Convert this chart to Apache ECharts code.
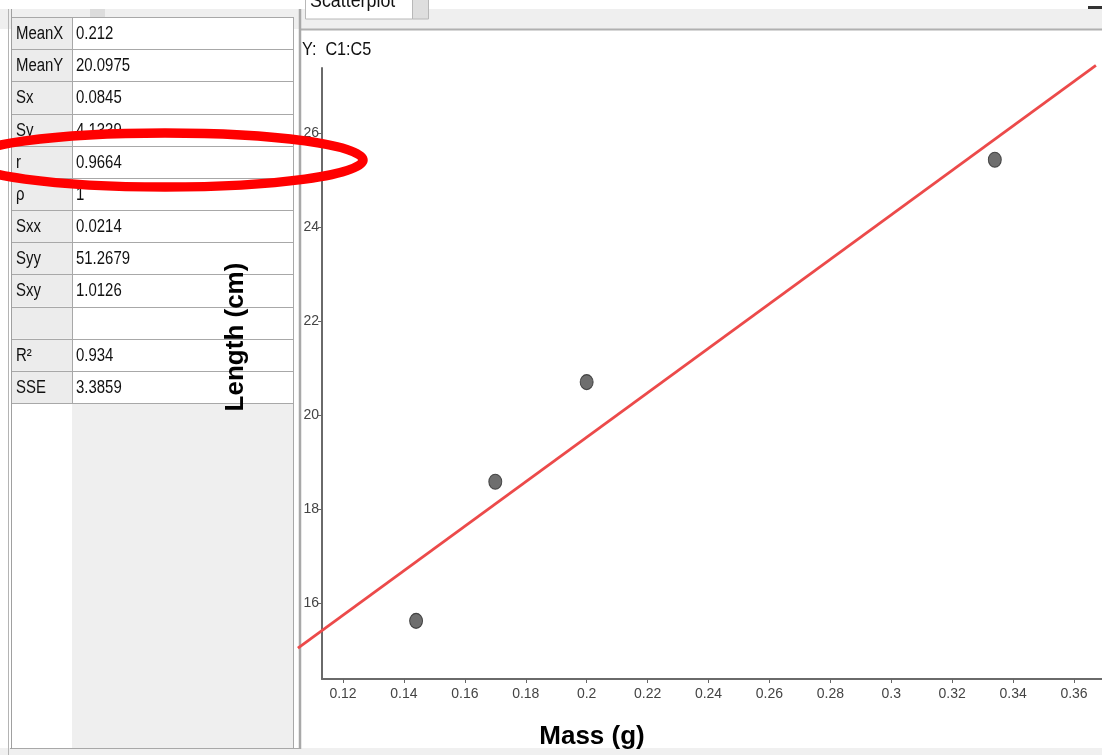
<!DOCTYPE html>
<html><head><meta charset="utf-8">
<script src="https://cdn.jsdelivr.net/npm/echarts@6/dist/echarts.min.js"></script>
<style>html,body{margin:0;padding:0;background:#fff;overflow:hidden}#c{width:1102px;height:755px;}</style>
</head><body><div id="c"></div>
<script>
// ---- data ----
const massX   = [0.144, 0.170, 0.200, 0.334];
const lengthY = [15.62, 18.58, 20.70, 25.43];
const fitLineX = [0.1052, 0.3672];
const fitLineY = [15.04, 27.44];
const statLabels = ['MeanX','MeanY','Sx','Sy','r','\u03c1','Sxx','Syy','Sxy','','R\u00b2','SSE'];
const statValues = ['0.212','20.0975','0.0845','4.1339','0.9664','1','0.0214','51.2679','1.0126','','0.934','3.3859'];
const xTickMin = 0.12, xTickMax = 0.36, xTickStep = 0.02;
const yTickMin = 16, yTickMax = 26, yTickStep = 2;
const xRange = [0.11311, 0.36919];
const yRange = [14.383, 27.383];
const xRangeWide = [0.10523, 0.36919];
const yRangeWide = [14.383, 27.553];

const FONT = '"Liberation Sans",Arial,sans-serif';

const chart = echarts.init(document.getElementById('c'), null, {renderer:'canvas'});

// ---- table & chrome graphics ----
const g = [];
function narrowText(txt, x, y, size, sx, extra) {
  return Object.assign({type:'text', x:x, y:y, scaleX:sx, scaleY:1,
    style:{text:txt, x:0, y:0, font:size+'px '+FONT, fill:'#111', textVerticalAlign:'middle', verticalAlign:'middle'}, z:5}, extra||{});
}
// top bar
g.push({type:'rect', shape:{x:0,y:9,width:1102,height:20}, style:{fill:'#efefef'}, z:1});
g.push({type:'line', shape:{x1:300,y1:29.5,x2:1102,y2:29.5}, style:{stroke:'#b0b0b0',lineWidth:2}, z:2});
g.push({type:'rect', shape:{x:305.5,y:-1,width:107,height:20}, style:{fill:'#fff',stroke:'#b8b8b8',lineWidth:1}, z:3});
g.push({type:'rect', shape:{x:412.5,y:-1,width:16,height:20}, style:{fill:'#dedede',stroke:'#b8b8b8',lineWidth:1}, z:3});
g.push(narrowText('Scatterplot', 310, 1, 21, 0.85, {z:4}));
g.push({type:'rect', shape:{x:90,y:9,width:15,height:8}, style:{fill:'#dcdcdc'}, z:2});
g.push({type:'rect', shape:{x:1088,y:6,width:14,height:3}, style:{fill:'#333'}, z:2});
// left panel background below table
g.push({type:'rect', shape:{x:72,y:403,width:221,height:345}, style:{fill:'#efefef'}, z:1});
// bottom strip
g.push({type:'rect', shape:{x:0,y:748,width:1102,height:7}, style:{fill:'#f0f0f0'}, z:1});
g.push({type:'line', shape:{x1:10,y1:748.5,x2:300,y2:748.5}, style:{stroke:'#a8a8a8',lineWidth:1}, z:2});
// panel borders
g.push({type:'line', shape:{x1:8.5,y1:9,x2:8.5,y2:755}, style:{stroke:'#b4b4b4',lineWidth:1}, z:2});
g.push({type:'line', shape:{x1:11.5,y1:9,x2:11.5,y2:749}, style:{stroke:'#a0a0a0',lineWidth:1}, z:2});
g.push({type:'line', shape:{x1:293.5,y1:17,x2:293.5,y2:749}, style:{stroke:'#a8a8a8',lineWidth:1}, z:2});
g.push({type:'line', shape:{x1:300,y1:9,x2:300,y2:749}, style:{stroke:'#a8a8a8',lineWidth:2.5}, z:2});

// table rows
const top0 = 17, rh = 32.17, c0 = 12, c1 = 72, c2 = 293;
for (let i = 0; i < statLabels.length; i++) {
  const y = top0 + i * rh;
  g.push({type:'rect', shape:{x:c0,y:y,width:c1-c0,height:rh}, style:{fill:'#ececec'}, z:2});
  g.push({type:'rect', shape:{x:c1,y:y,width:c2-c1,height:rh}, style:{fill:'#ffffff'}, z:2});
  g.push(narrowText(statLabels[i], 16, y+rh/2+1, 18, 0.83));
  g.push(narrowText(statValues[i], 76, y+rh/2+1, 18, 0.83));
}
for (let i = 0; i <= statLabels.length; i++) {
  const y = Math.round(top0 + i * rh) + 0.5;
  g.push({type:'line', shape:{x1:c0,y1:y,x2:c2,y2:y}, style:{stroke:'#a8a8a8',lineWidth:1}, z:3});
}
g.push({type:'line', shape:{x1:c1+0.5,y1:top0,x2:c1+0.5,y2:top0+12*rh}, style:{stroke:'#a8a8a8',lineWidth:1}, z:3});

// plot header text
g.push(narrowText('Y:  C1:C5', 302, 50, 18, 0.9));
// axis titles
g.push({type:'text', x:236, y:337, rotation:Math.PI/2, style:{text:'Length (cm)', x:0, y:0, font:'bold 26px '+FONT, fill:'#000', textAlign:'center', align:'center', textVerticalAlign:'middle', verticalAlign:'middle'}, z:6});
g.push({type:'text', style:{text:'Mass (g)', x:592, y:737, font:'bold 26px '+FONT, fill:'#000', textAlign:'center', align:'center', textVerticalAlign:'middle', verticalAlign:'middle'}, z:6});
// red annotation ellipse
g.push({type:'ellipse', shape:{cx:165, cy:160, rx:198, ry:27}, style:{fill:null, stroke:'#ff0000', lineWidth:9.5}, z:50});

const hiddenAxis = {axisLine:{show:false}, axisTick:{show:false}, axisLabel:{show:false}, splitLine:{show:false}};
const option = {
  backgroundColor:'#ffffff',
  animation:false,
  grid:[
    {left:322, top:68, right:0, bottom:76, containLabel:false},
    {left:343, top:133, right:28, bottom:152, containLabel:false},
    {left:298, top:60, right:0, bottom:76, containLabel:false}
  ],
  xAxis:[
    {gridIndex:0, type:'value', min:xRange[0], max:xRange[1], axisLine:{show:true,onZero:false,lineStyle:{color:'#6a6a6a',width:2}}, axisTick:{show:false}, axisLabel:{show:false}, splitLine:{show:false}},
    {gridIndex:1, type:'value', min:xTickMin, max:xTickMax, interval:xTickStep, position:'bottom', offset:76,
      axisLine:{show:false}, axisTick:{show:true,length:4,lineStyle:{color:'#666'}}, splitLine:{show:false},
      axisLabel:{color:'#444', fontFamily:FONT, fontSize:14, margin:8, formatter:v=>String(+v.toFixed(2))}},
    Object.assign({gridIndex:2, type:'value', min:xRangeWide[0], max:xRangeWide[1]}, hiddenAxis)
  ],
  yAxis:[
    {gridIndex:0, type:'value', min:yRange[0], max:yRange[1], axisLine:{show:true,onZero:false,lineStyle:{color:'#6a6a6a',width:2}}, axisTick:{show:false}, axisLabel:{show:false}, splitLine:{show:false}},
    {gridIndex:1, type:'value', min:yTickMin, max:yTickMax, interval:yTickStep, position:'left', offset:21,
      axisLine:{show:false}, axisTick:{show:true,length:4,lineStyle:{color:'#666'}}, splitLine:{show:false},
      axisLabel:{color:'#444', fontFamily:FONT, fontSize:14, margin:3}},
    Object.assign({gridIndex:2, type:'value', min:yRangeWide[0], max:yRangeWide[1]}, hiddenAxis)
  ],
  series:[
    {type:'line', xAxisIndex:2, yAxisIndex:2, symbol:'none', silent:true,
      data: fitLineX.map((x,i)=>[x, fitLineY[i]]), lineStyle:{color:'#ec4a4a', width:2.8}, z:3},
    {type:'scatter', xAxisIndex:0, yAxisIndex:0, symbol:'circle', symbolSize:[13,15],
      data: massX.map((x,i)=>[x, lengthY[i]]), itemStyle:{color:'#4a4a4a', borderColor:'#2a2a2a', borderWidth:1}, z:4}
  ],
  graphic: g
};
chart.setOption(option);
</script></body></html>
